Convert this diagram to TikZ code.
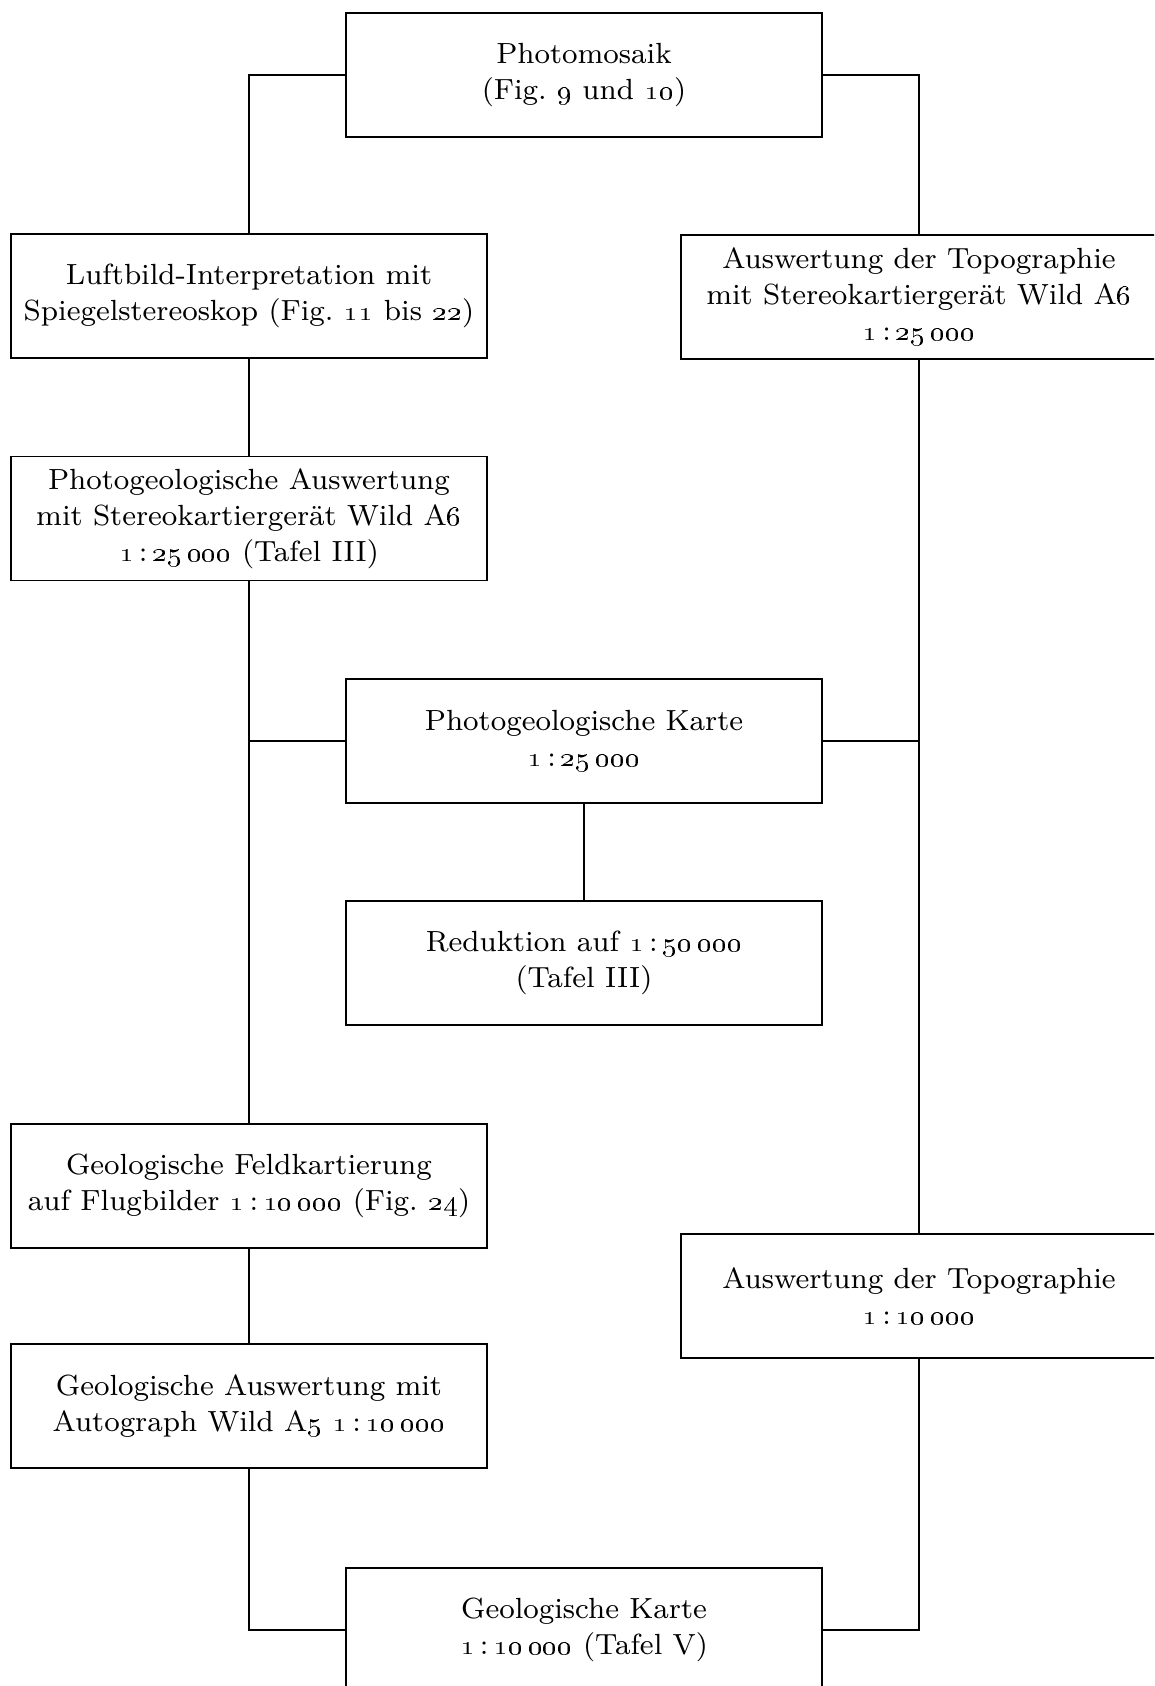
\documentclass[tikz,border=0pt]{standalone}
\usepackage{tikz}
\usetikzlibrary{positioning}
\usetikzlibrary{calc}

\begin{document}
\begin{tikzpicture}[line width=0.55pt,
    stage/.style={draw, rectangle, align=center, minimum width=4.76cm, minimum height=1.24cm,
                  inner sep=0pt, font=\fontsize{8.3}{10.2}\selectfont}]

        \def\mstab#1#2{\oldstylenums{1}\,:\,\oldstylenums{#1}\,\oldstylenums{#2}} % Massstab 1 : xx xxx

        \useasboundingbox (0, 0) rectangle (11.54, -16.86);
        \clip (0, 0) rectangle (11.54, -16.86);

        \node[stage] (mosaik) at (5.84, -0.75) {Photomosaik\\(Fig.~\oldstylenums{9} und \oldstylenums{10})};

        \node[stage] (luftbild) at (2.49, -2.96) {Luftbild-Interpretation mit\\Spiegelstereoskop (Fig.~\oldstylenums{11} bis \oldstylenums{22})};
        \node[stage] (topoA) at (9.19, -2.97) {Auswertung der Topographie\\mit Stereokartiergerät Wild A\oldstylenums{6}\\\mstab{25}{000}};

        \node[stage] (pgausw) at (2.49, -5.185) {Photogeologische Auswertung\\mit Stereokartiergerät Wild A\oldstylenums{6}\\\mstab{25}{000} (Tafel III)};

        \node[stage] (pgkarte) at (5.84, -7.41) {Photogeologische Karte\\\mstab{25}{000}};
        \node[stage] (reduktion) at (5.84, -9.63) {Reduktion auf \mstab{50}{000}\\(Tafel III)};

        \node[stage] (feld) at (2.49, -11.86) {Geologische Feldkartierung\\auf Flugbilder \mstab{10}{000} (Fig.~\oldstylenums{24})};
        \node[stage] (topoB) at (9.19, -12.96) {Auswertung der Topographie\\\mstab{10}{000}};

        \node[stage] (geolausw) at (2.49, -14.06) {Geologische Auswertung mit\\Autograph Wild A\oldstylenums{5} \mstab{10}{000}};

        \node[stage] (geolkarte) at (5.84, -16.30) {Geologische Karte\\\mstab{10}{000} (Tafel V)};

        % linker Strang
        \draw (mosaik.west) -| (luftbild.north);
        \draw (luftbild.south) -- (pgausw.north);
        \draw (pgausw.south) -- (feld.north);
        \draw (pgkarte.west) -- (pgkarte.west -| pgausw.south);
        \draw (feld.south) -- (geolausw.north);
        \draw (geolausw.south) |- (geolkarte.west);

        % rechter Strang
        \draw (mosaik.east) -| (topoA.north);
        \draw (topoA.south) -- (topoB.north);
        \draw (pgkarte.east) -- (pgkarte.east -| topoA.south);
        \draw (topoB.south) |- (geolkarte.east);

        \draw (pgkarte.south) -- (reduktion.north);

      \end{tikzpicture}
\end{document}
